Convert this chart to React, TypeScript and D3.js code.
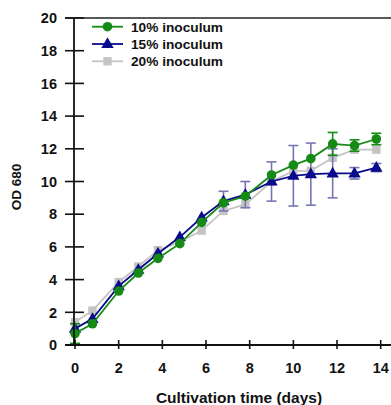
import * as d3 from "d3";

const days = [0, 0.8, 2, 2.9, 3.8, 4.8, 5.8, 6.8, 7.8, 9, 10, 10.8, 11.8, 12.8, 13.8];
const od10 = [0.7, 1.3, 3.3, 4.4, 5.3, 6.2, 7.5, 8.7, 9.1, 10.4, 11.0, 11.4, 12.3, 12.2, 12.6];
const od15 = [1.0, 1.6, 3.6, 4.6, 5.6, 6.6, 7.8, 8.8, 9.2, 10.0, 10.35, 10.45, 10.5, 10.5, 10.85];
const od20 = [1.4, 2.1, 3.85, 4.8, 5.8, 6.3, 7.0, 8.2, 8.6, 10.0, 10.65, 10.65, 11.45, 11.95, 11.95];
const err10 = [0.6, 0, 0, 0, 0, 0, 0, 0, 0, 0, 0, 0, 0.7, 0.35, 0.35];
const err15 = [0, 0, 0, 0, 0, 0, 0, 0.6, 0.8, 1.2, 1.85, 1.9, 1.5, 0.35, 0.25];
const err20 = [0, 0, 0, 0, 0, 0, 0, 0, 0, 0, 0, 0, 0, 0, 0];
const xTicks = [0, 2, 4, 6, 8, 10, 12, 14];
const yTicks = [0, 2, 4, 6, 8, 10, 12, 14, 16, 18, 20];

const series = [
    { name: "10% inoculum", values: od10, errs: err10, color: "#158a15", errColor: "#158a15", shape: "circle" },
    { name: "15% inoculum", values: od15, errs: err15, color: "#0a0a8c", errColor: "#7676b4", shape: "triangle" },
    { name: "20% inoculum", values: od20, errs: err20, color: "#c4c4c4", errColor: "#c4c4c4", shape: "square" },
];

const W = 391;
const H = 405;
const font = "'Liberation Sans', Arial, sans-serif";

function Marker ( { shape, x, y, color }: { shape: string; x: number; y: number; color: string } )
{
    if ( shape === "circle" ) return <circle cx={ x } cy={ y } r={ 4.8 } fill={ color } />;
    if ( shape === "triangle" )
    {
        const p = d3.symbol( d3.symbolTriangle, 66 )();
        return <path d={ p || "" } transform={ `translate(${ x },${ y + 0.5 })` } fill={ color } />;
    }
    return <rect x={ x - 4.2 } y={ y - 4.2 } width={ 8.4 } height={ 8.4 } fill={ color } />;
}

export default function App ()
{
    const x = d3.scaleLinear().domain( [ 0, 14 ] ).range( [ 75, 380.7 ] );
    const y = d3.scaleLinear().domain( [ 0, 20 ] ).range( [ 345, 18 ] );
    const line = d3.line<[ number, number ]>().x( ( d ) => x( d[ 0 ] ) ).y( ( d ) => y( d[ 1 ] ) );

    return (
        <svg width={ W } height={ H } style={ { position: "absolute", left: 0, top: 0, background: "#fff" } } fontFamily={ font }>
            {/* top border */ }
            <line x1={ 65 } x2={ W } y1={ y( 20 ) } y2={ y( 20 ) } stroke="#222" strokeWidth={ 1.6 } />

            {/* series */ }
            { [ ...series ].reverse().map( ( s ) => (
                <g key={ s.name }>
                    { s.errs.map( ( e, i ) => e > 0 && (
                        <g key={ i } stroke={ s.errColor } strokeWidth={ 1.6 }>
                            <line x1={ x( days[ i ] ) } x2={ x( days[ i ] ) } y1={ y( s.values[ i ] - e ) } y2={ y( s.values[ i ] + e ) } />
                            <line x1={ x( days[ i ] ) - 5 } x2={ x( days[ i ] ) + 5 } y1={ y( s.values[ i ] + e ) } y2={ y( s.values[ i ] + e ) } />
                            <line x1={ x( days[ i ] ) - 5 } x2={ x( days[ i ] ) + 5 } y1={ y( s.values[ i ] - e ) } y2={ y( s.values[ i ] - e ) } />
                        </g>
                    ) ) }
                    <path d={ line( days.map( ( d, i ) => [ d, s.values[ i ] ] as [ number, number ] ) ) || "" } fill="none" stroke={ s.color } strokeWidth={ 1.8 } />
                    { days.map( ( d, i ) => <Marker key={ i } shape={ s.shape } x={ x( d ) } y={ y( s.values[ i ] ) } color={ s.color } /> ) }
                </g>
            ) ) }

            {/* y axis */ }
            <line x1={ 74 } x2={ 74 } y1={ y( 20 ) } y2={ y( 0 ) + 1 } stroke="#111" strokeWidth={ 1.8 } />
            { yTicks.map( ( t ) => (
                <g key={ t }>
                    <line x1={ 65 } x2={ 84 } y1={ y( t ) } y2={ y( t ) } stroke="#111" strokeWidth={ 1.6 } />
                    <text x={ 57 } y={ y( t ) } dy="0.36em" textAnchor="end" fontSize={ 14.5 } fontWeight="bold" fill="#111">{ t }</text>
                </g>
            ) ) }
            <text transform={ `translate(16,${ 187 }) rotate(-90)` } textAnchor="middle" dy="0.36em" fontSize={ 13.5 } fontWeight="bold" fill="#111">OD 680</text>

            {/* x axis */ }
            <line x1={ 65 } x2={ W } y1={ y( 0 ) } y2={ y( 0 ) } stroke="#111" strokeWidth={ 1.8 } />
            { xTicks.map( ( t ) => (
                <g key={ t }>
                    <line x1={ x( t ) } x2={ x( t ) } y1={ 340 } y2={ 349 } stroke="#111" strokeWidth={ 1.6 } />
                    <text x={ x( t ) } y={ 368 } dy="0.36em" textAnchor="middle" fontSize={ 14.5 } fontWeight="bold" fill="#111">{ t }</text>
                </g>
            ) ) }
            <text x={ 239 } y={ 397 } dy="0.36em" textAnchor="middle" fontSize={ 15.5 } fontWeight="bold" fill="#111">Cultivation time (days)</text>

            {/* legend */ }
            { series.map( ( s, i ) => (
                <g key={ s.name } transform={ `translate(0,${ 26.7 + i * 17.3 })` }>
                    <line x1={ 92 } x2={ 123 } y1={ 0 } y2={ 0 } stroke={ s.color } strokeWidth={ 1.8 } />
                    <Marker shape={ s.shape } x={ 107.5 } y={ 0 } color={ s.color } />
                    <text x={ 131 } y={ 0 } dy="0.36em" fontSize={ 13.7 } fontWeight="bold" fill="#111">{ s.name }</text>
                </g>
            ) ) }
        </svg>
    );
}
